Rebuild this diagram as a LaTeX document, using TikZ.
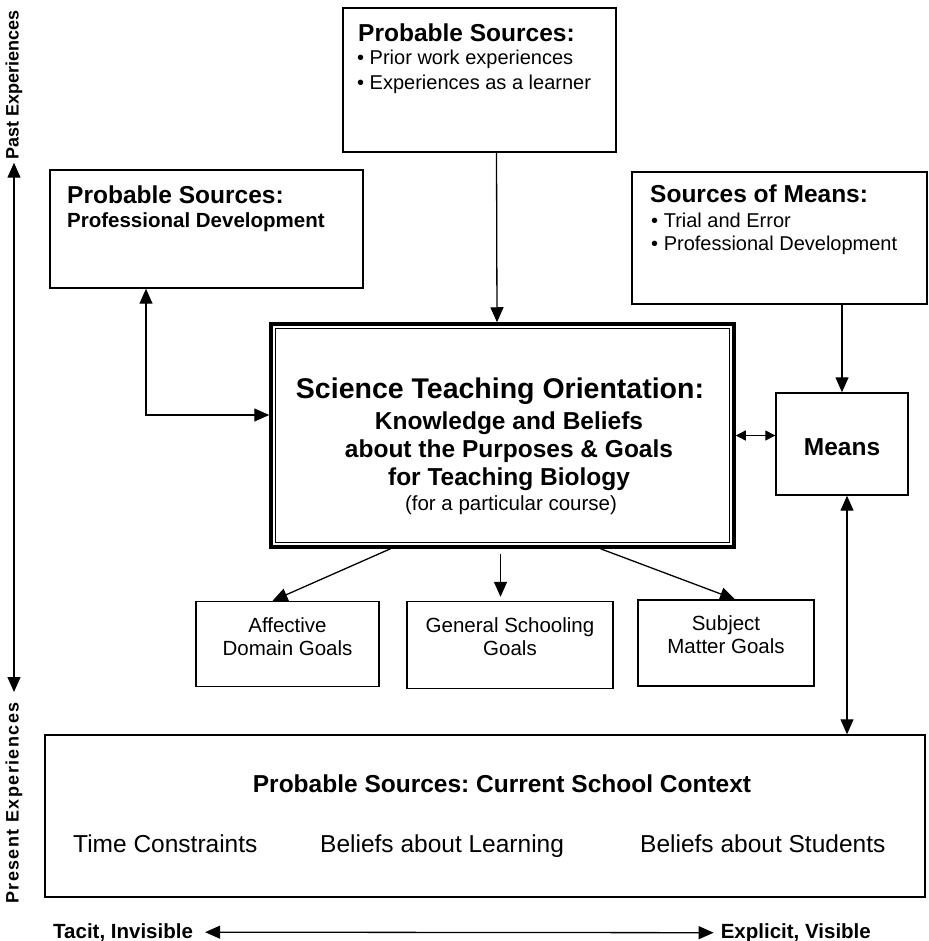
\documentclass[tikz,border=0pt]{standalone}
\usepackage{fontspec}
\setmainfont{Liberation Sans}
\usetikzlibrary{arrows.meta}
\frenchspacing

\tikzset{
  box/.style={draw, line width=1.4pt, inner sep=0pt},
  arr/.style={line width=1.3pt, -{Triangle[length=15pt,width=13pt]}},
  arrs/.style={line width=1.3pt, {Triangle[length=15pt,width=13pt]}-{Triangle[length=15pt,width=13pt]}},
  head/.style={font=\bfseries\fontsize{24.5}{28}\selectfont, anchor=base west, inner sep=0pt},
  item/.style={font=\fontsize{20}{24}\selectfont, anchor=base west, inner sep=0pt},
  goal/.style={font=\fontsize{20.5}{23}\selectfont, align=center, anchor=base, inner sep=0pt},
  ctr/.style={font=\bfseries\fontsize{24.5}{28}\selectfont, anchor=base, inner sep=0pt},
  ctxitem/.style={font=\fontsize{24.5}{28}\selectfont, anchor=base west, inner sep=0pt},
  side/.style={font=\bfseries\fontsize{20.5}{24}\selectfont, inner sep=0pt},
}

\begin{document}
\begin{tikzpicture}[x=1pt, y=-1pt]
  \useasboundingbox (0,0) rectangle (928,941);

  % top: sources from the past
  \node[box, minimum width=273, minimum height=144] (prior) at (479.5,80) {};
  \node[head] (priorhd) at (358,42) {Probable Sources:};
  \node[item] at (357,65) {\textbullet\ Prior work experiences};
  \node[item] at (357,90) {\textbullet\ Experiences as a learner};

  \node[box, minimum width=313, minimum height=118] (profdev) at (206.5,229) {};
  \node[head] at (67,204) {Probable Sources:};
  \node[head, font=\bfseries\fontsize{20.5}{24}\selectfont] at (67,228) {Professional Development};

  \node[box, minimum width=295, minimum height=132] (meansrc) at (779.5,238) {};
  \node[head] at (650,203) {Sources of Means:};
  \node[item] at (651,228) {\textbullet\ Trial and Error};
  \node[item] at (651,251) {\textbullet\ Professional Development};

  % centre: the orientation itself
  \node[draw, line width=3.5pt, minimum width=463, minimum height=223, inner sep=0pt] (orient) at (502.5,435.5) {};
  \draw[line width=0.8pt] ([shift={(6,6)}]orient.north west) rectangle ([shift={(-6,-6)}]orient.south east);
  \node[ctr, font=\bfseries\fontsize{28.5}{32}\selectfont] at (500,398) {Science Teaching Orientation:};
  \node[ctr] at (509,429) {Knowledge and Beliefs};
  \node[ctr] at (509,457) {about the Purposes \& Goals};
  \node[ctr] at (509,485) {for Teaching Biology};
  \node[ctr, font=\fontsize{20.5}{24}\selectfont] at (511,510) {(for a particular course)};

  \node[box, minimum width=132, minimum height=102] (means) at (842,444) {};
  \node[ctr] at (842,455) {Means};

  % goals
  \node[box, minimum width=183, minimum height=85] (affect) at (287.5,644) {};
  \node[goal] at (287.5,655) {Affective\\Domain Goals};
  \node[box, minimum width=206, minimum height=87] (general) at (510,645) {};
  \node[goal] at (510,655) {General Schooling\\Goals};
  \node[box, minimum width=176, minimum height=86] (subject) at (726,643) {};
  \node[goal] at (726,653) {Subject\\Matter Goals};

  % bottom: present context
  \node[box, minimum width=880, minimum height=162] (context) at (485,816) {};
  \node[ctr] at (502,792) {Probable Sources: Current School Context};
  \node[ctxitem] at (73,852) {Time Constraints};
  \node[ctxitem] at (320,852) {Beliefs about Learning};
  \node[ctxitem] at (640,852) {Beliefs about Students};

  % axes
  \node[side, rotate=90, font=\bfseries\fontsize{18}{22}\selectfont] (past) at (14,85) {Past Experiences};
  \node[side, rotate=90, font=\bfseries\fontsize{18}{22}\selectfont\addfontfeature{LetterSpace=8}] (present) at (14,803) {Present Experiences};
  \draw[arrs, shorten <=3pt, shorten >=10pt] (past.west) -- (present.east);
  \node[side, anchor=base west] (tacit) at (53,938) {Tacit, Invisible};
  \node[side, anchor=base east] (explicit) at (871,938) {Explicit, Visible};
  \draw[arrs, shorten <=12pt, shorten >=7pt] (tacit.east) -- (explicit.west);

  % connectors
  \coordinate (pdbend) at (146,415);
  \draw[arr] ([xshift=17]prior.south) -- ([xshift=-5.5]orient.north);
  \draw[arrs] (profdev.south -| pdbend) -- (pdbend) -- (orient.west |- pdbend);
  \draw[arr] (meansrc.south -| means.north) -- (means.north);
  \draw[line width=1.3pt, {Triangle[length=10pt,width=10pt]}-{Triangle[length=10pt,width=10pt]}] (orient.east) -- (orient.east -| means.west);
  \draw[arrs] ([xshift=5]means.south) -- ([xshift=5]means.south |- context.north);
  \draw[arr] ([xshift=-112]orient.south) -- ([xshift=-15]affect.north);
  \draw[arr, shorten <=5pt, shorten >=4pt] ([xshift=-2]orient.south) -- ([xshift=-2]orient.south |- general.north);
  \draw[arr] ([xshift=98]orient.south) -- ([xshift=9]subject.north);
\end{tikzpicture}
\end{document}
